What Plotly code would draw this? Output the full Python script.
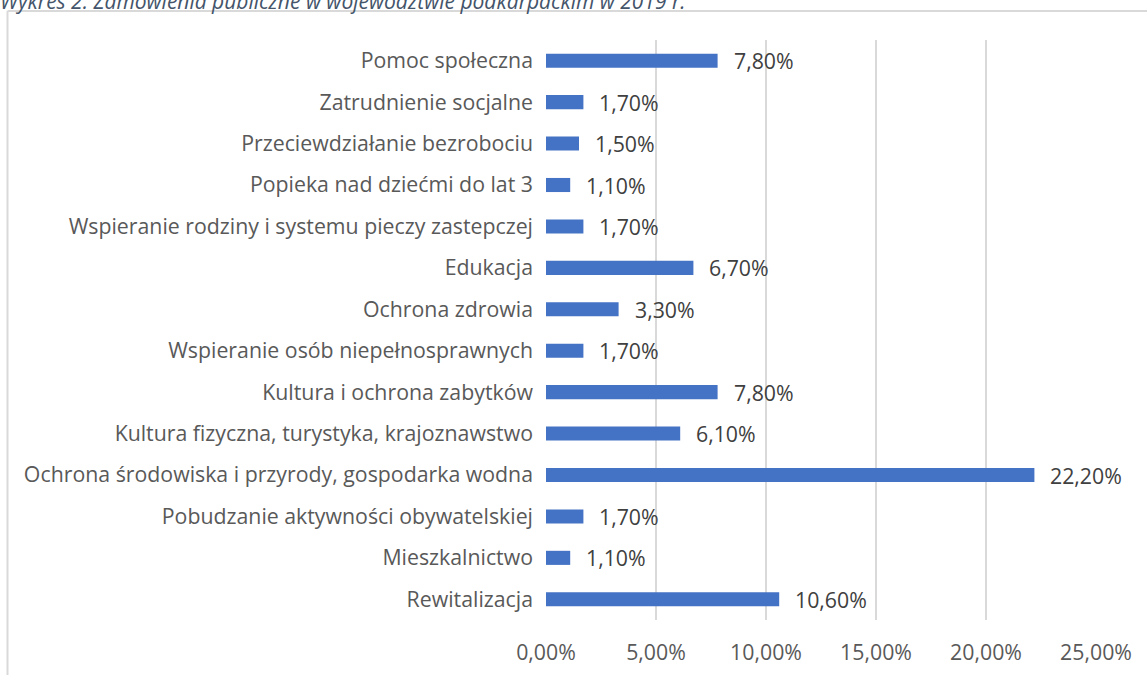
import plotly.graph_objects as go

categories = [
    "Pomoc społeczna",
    "Zatrudnienie socjalne",
    "Przeciewdziałanie bezrobociu",
    "Popieka nad dziećmi do lat 3",
    "Wspieranie rodziny i systemu pieczy zastepczej",
    "Edukacja",
    "Ochrona zdrowia",
    "Wspieranie osób niepełnosprawnych",
    "Kultura i ochrona zabytków",
    "Kultura fizyczna, turystyka, krajoznawstwo",
    "Ochrona środowiska i przyrody, gospodarka wodna",
    "Pobudzanie aktywności obywatelskiej",
    "Mieszkalnictwo",
    "Rewitalizacja",
]
values = [7.8, 1.7, 1.5, 1.1, 1.7, 6.7, 3.3, 1.7, 7.8, 6.1, 22.2, 1.7, 1.1, 10.6]
x_ticks = [0, 5, 10, 15, 20, 25]
x_ticktext = ["0,00%", "5,00%", "10,00%", "15,00%", "20,00%", "25,00%"]
title_text = "Wykres 2. Zamówienia publiczne w województwie podkarpackim w 2019 r."

FONT = "Open Sans"
FS = 21.3
TXT = "#404040"

fig = go.Figure()
fig.add_trace(go.Bar(
    x=values, y=categories, orientation="h",
    marker=dict(color="#4472C4", line=dict(width=0)),
    hoverinfo="x+y",
))

for c, v in zip(categories, values):
    fig.add_annotation(
        x=v, y=c, xref="x", yref="y",
        text=f"{v:.2f}".replace(".", ",") + "%",
        showarrow=False, xanchor="left", xshift=14,
        font=dict(family=FONT, size=FS, color=TXT),
    )

L, R, T, B = 546, 51, 40, 55
W, H = 1147, 675
pw, ph = W - L - R, H - T - B

# title (partly cut at the top)
fig.add_annotation(
    x=(-2 - L) / pw, y=1 + (T - 17) / ph, xref="paper", yref="paper",
    xanchor="left", yanchor="bottom", showarrow=False,
    text=f"<i>{title_text}</i>",
    font=dict(family=FONT, size=21, color="#44546A"),
)

# chart-area border
border = dict(color="#D9D9D9", width=2)
fig.add_shape(type="line", xref="paper", yref="paper",
              x0=(7.5 - L) / pw, x1=(7.5 - L) / pw,
              y0=1 + (T - 11) / ph, y1=-(B + 5) / ph, line=border)
fig.add_shape(type="line", xref="paper", yref="paper",
              x0=(7.5 - L) / pw, x1=(W + 5 - L) / pw,
              y0=1 + (T - 11) / ph, y1=1 + (T - 11) / ph, line=border)

fig.update_layout(
    width=W, height=H,
    margin=dict(l=L, r=R, t=T, b=B, pad=0, autoexpand=False),
    paper_bgcolor="white", plot_bgcolor="white",
    bargap=0.66,
    showlegend=False,
    font=dict(family=FONT, size=FS, color=TXT),
    xaxis=dict(
        range=[0, 25], tickvals=x_ticks, ticktext=x_ticktext,
        showgrid=True, gridcolor="#D9D9D9", gridwidth=1.5,
        zeroline=False, showline=False, ticks="",
        ticklabelstandoff=18, automargin=False,
        tickfont=dict(family=FONT, size=FS, color="#595959"),
    ),
    yaxis=dict(
        categoryorder="array", categoryarray=categories,
        autorange="reversed",
        showgrid=False, zeroline=False, showline=False, ticks="",
        ticklabelstandoff=12, automargin=False,
        tickfont=dict(family=FONT, size=FS, color="#595959"),
    ),
)

fig.write_html("out.html", config={"displayModeBar": False},
               post_script="document.body.style.margin='0';document.body.style.overflow='hidden';")
